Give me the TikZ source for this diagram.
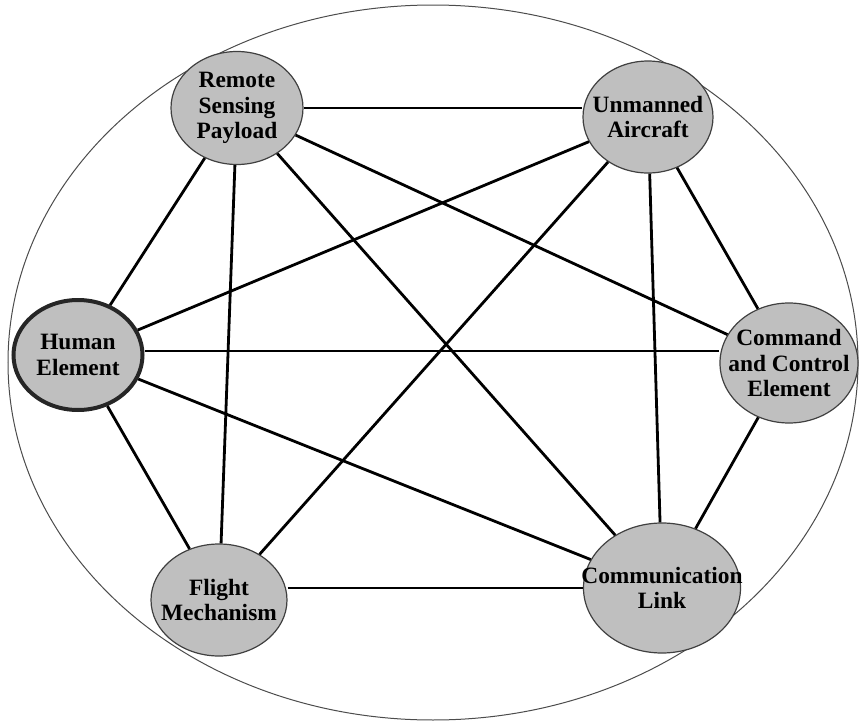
\documentclass[tikz,border=0pt]{standalone}
\usepackage{fontspec}
\setmainfont{Liberation Serif}
\usetikzlibrary{positioning, shapes.geometric}

\begin{document}
\begin{tikzpicture}[-, on grid,
		part/.style={ellipse, draw=black!75, line width=0.6pt, fill=gray!50, inner sep=0pt},
		tag/.style={align=center, inner sep=0pt, font=\bfseries\fontsize{11.7}{12.8}\selectfont},
		link/.style={line width=1.4pt}]
		\useasboundingbox (0,0) rectangle (429.5pt,-361.5pt);
		\draw[black!70, line width=0.5pt] (216.5pt,-181.25pt) ellipse (212.5pt and 178.75pt);
		
		\node[part, draw=black!85, line width=2pt, minimum width=64.5pt, minimum height=55pt, label={[tag]center:Human\\Element}] (he) at (39pt,-177.5pt) {};
		\node[part, above right=123.5pt and 79.5pt of he, minimum width=66pt, minimum height=56.5pt, label={[tag]center:Remote\\Sensing\\Payload}] (rsp) {};
		\node[part, below right=4.5pt and 205.5pt of rsp, minimum width=65pt, minimum height=56pt, label={[tag]center:Unmanned\\Aircraft}] (ua) {};
		\node[part, below right=123pt and 70.5pt of ua, minimum width=69pt, minimum height=60pt, label={[tag]center:Command\\and Control\\Element}] (cc) {};
		\node[part, below right=122.5pt and 70.5pt of he, minimum width=68pt, minimum height=56pt, label={[tag]center:Flight\\Mechanism}] (fm) {};
		\node[part, above right=6pt and 221.5pt of fm, minimum width=78.5pt, minimum height=65pt, label={[tag]center:Communication\\Link}] (cl) {};
		
		
		\draw[link] (rsp.east) edge (rsp.east -| ua.west);
		\draw[link] (rsp) edge (he);
		\draw[link] (rsp) edge (fm);
		\draw[link] (rsp) edge (cl);
		\draw[link] (rsp) edge (cc);
		\draw[link] (ua) edge (he);
		\draw[link] (ua) edge (fm);
		\draw[link] (ua) edge (cl);
		\draw[link] (ua) edge (cc);
		\draw[link] ([yshift=2pt]he.east) edge ([yshift=2pt]he.east -| cc.west);
		\draw[link] (he) edge (cl);
		\draw[link] (he) edge (fm);
		\draw[link] (cc) edge (cl);
		\draw[link] (cl.west -| fm.east) edge (cl.west);
		
	\end{tikzpicture}
\end{document}
